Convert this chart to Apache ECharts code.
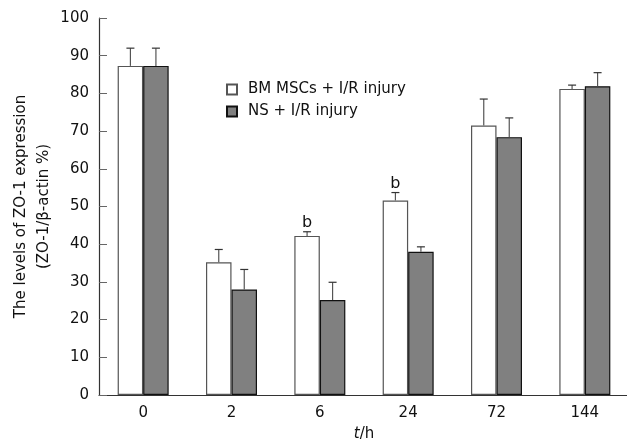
<!DOCTYPE html>
<html>
<head>
<meta charset="utf-8">
<script src="https://cdn.jsdelivr.net/npm/echarts@6/dist/echarts.min.js"></script>
<style>
  html, body { margin: 0; padding: 0; background: #fff; }
  #chart { width: 627px; height: 444px; }
</style>
</head>
<body>
<div id="chart"></div>
<script>
// time points (h)
const categories = ['0', '2', '6', '24', '72', '144'];
// BM MSCs + I/R injury
const bmMean = [87.3, 35.2, 42.2, 51.6, 71.5, 81.2];
const bmErr = [4.7, 3.4, 1.1, 2.1, 7.0, 1.0];
const bmMark = ['', '', 'b', 'b', '', ''];
// NS + I/R injury
const nsMean = [87.3, 28.0, 25.2, 38.0, 68.4, 81.9];
const nsErr = [4.7, 5.3, 4.7, 1.3, 5.1, 3.6];

const FONT = 'DejaVu Sans';
const BAR_W = 25.5;

const chart = echarts.init(document.getElementById('chart'));

function errorSeries(name, mean, err, marks, offset) {
    return {
        type: 'custom',
        name: name + ' err',
        z: 5,
        silent: true,
        data: mean.map((m, i) => [i, m, m + err[i]]),
        renderItem(params, api) {
            const base = api.coord([api.value(0), api.value(1)]);
            const top = api.coord([api.value(0), api.value(2)]);
            const x = base[0] + offset;
            const children = [
                { type: 'line', shape: { x1: x, y1: base[1], x2: x, y2: top[1] },
                  style: { stroke: '#555', lineWidth: 1.2 } },
                { type: 'line', shape: { x1: x - 4, y1: top[1], x2: x + 4, y2: top[1] },
                  style: { stroke: '#333', lineWidth: 1.2 } }
            ];
            const mk = marks ? marks[params.dataIndex] : '';
            if (mk) {
                children.push({
                    type: 'text',
                    style: { text: mk, x: x, y: top[1] - 1, align: 'center', verticalAlign: 'bottom',
                             fontFamily: FONT, fontSize: 16, fill: '#111' }
                });
            }
            return { type: 'group', children };
        }
    };
}

chart.setOption({
    animation: false,
    textStyle: { fontFamily: FONT },
    grid: { left: 99, top: 18, right: -2, bottom: 49, outerBoundsMode: 'none' },
    legend: {
        orient: 'vertical',
        left: 221,
        top: 77,
        itemWidth: 10,
        itemHeight: 10,
        itemGap: 7,
        icon: 'rect',
        textStyle: { fontFamily: FONT, fontSize: 15, color: '#111', padding: [0, 0, 0, 6] },
        data: ['BM MSCs + I/R injury', 'NS + I/R injury']
    },
    xAxis: {
        type: 'category',
        data: categories,
        name: '{i|t}/h',
        nameLocation: 'middle',
        nameGap: 32,
        nameMoveOverlap: false,
        nameTextStyle: {
            fontFamily: FONT, fontSize: 15, color: '#111',
            rich: { i: { fontStyle: 'italic', fontFamily: FONT, fontSize: 15, color: '#111' } }
        },
        axisLine: { lineStyle: { color: '#333', width: 1.2 } },
        axisTick: { inside: true, length: 7, lineStyle: { color: '#444' } },
        axisLabel: { fontFamily: FONT, fontSize: 15, color: '#111', margin: 11 }
    },
    yAxis: {
        type: 'value',
        min: 0,
        max: 100,
        interval: 10,
        name: 'The levels of ZO-1 expression\n(ZO-1/β-actin %)',
        nameLocation: 'middle',
        nameRotate: 90,
        nameGap: 43,
        nameMoveOverlap: false,
        nameTextStyle: { fontFamily: FONT, fontSize: 15, color: '#111', lineHeight: 23 },
        axisLine: { show: true, lineStyle: { color: '#333', width: 1.2 } },
        axisTick: { show: true, inside: true, length: 8, lineStyle: { color: '#666' } },
        axisLabel: { fontFamily: FONT, fontSize: 15, color: '#111', margin: 10 },
        splitLine: { show: false }
    },
    series: [
        {
            name: 'BM MSCs + I/R injury',
            type: 'bar',
            barWidth: BAR_W,
            barGap: '0%',
            data: bmMean,
            itemStyle: { color: '#fff', borderColor: '#555', borderWidth: 1.2 }
        },
        {
            name: 'NS + I/R injury',
            type: 'bar',
            barWidth: BAR_W,
            barGap: '0%',
            data: nsMean,
            itemStyle: { color: '#808080', borderColor: '#111', borderWidth: 1.2 }
        },
        errorSeries('BM MSCs + I/R injury', bmMean, bmErr, bmMark, -BAR_W / 2),
        errorSeries('NS + I/R injury', nsMean, nsErr, null, BAR_W / 2)
    ]
});
</script>
</body>
</html>
